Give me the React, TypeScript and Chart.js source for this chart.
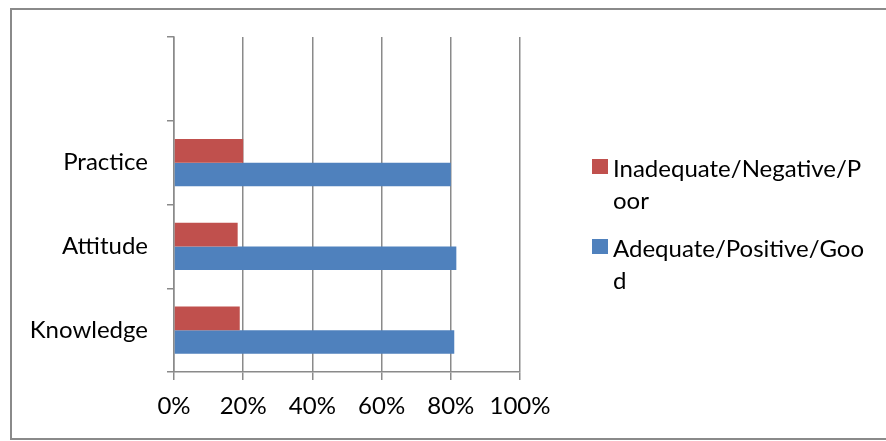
import React, { useEffect, useRef } from "react";
import { Chart, registerables } from "chart.js";

Chart.register(...registerables);

const categories = ["", "Practice", "Attitude", "Knowledge"];
const inadequate = [null, 20, 18.4, 19];
const adequate = [null, 80, 81.6, 81];
const seriesNames = ["Inadequate/Negative/Poor", "Adequate/Positive/Good"];
const legendLines = [
  ["Inadequate/Negative/P", "oor"],
  ["Adequate/Positive/Goo", "d"],
];
const seriesColors = ["#C0504D", "#4F81BD"];
const xMin = 0;
const xMax = 100;
const xStep = 20;

const FONT = "Lato";
const FONT_SIZE = 24;
const AXIS_COLOR = "#8a8a8a";

export default function App() {
  const canvasRef = useRef<HTMLCanvasElement | null>(null);

  useEffect(() => {
    const canvas = canvasRef.current;
    if (!canvas) return;
    const chart = new Chart(canvas, {
      type: "bar",
      data: {
        labels: categories,
        datasets: [
          {
            label: seriesNames[0],
            data: inadequate as any,
            backgroundColor: seriesColors[0],
            borderWidth: 0,
            barPercentage: 1,
            categoryPercentage: 0.565,
          },
          {
            label: seriesNames[1],
            data: adequate as any,
            backgroundColor: seriesColors[1],
            borderWidth: 0,
            barPercentage: 1,
            categoryPercentage: 0.565,
          },
        ],
      },
      options: {
        indexAxis: "y",
        responsive: false,
        animation: false,
        layout: { padding: { left: 0, top: 37, right: 366, bottom: 19 } },
        plugins: {
          legend: { display: false },
          tooltip: { enabled: false },
        },
        scales: {
          x: {
            min: xMin,
            max: xMax,
            ticks: {
              stepSize: xStep,
              callback: (v: any) => v + "%",
              color: "#000",
              font: { family: FONT, size: FONT_SIZE },
              padding: 12,
              maxRotation: 0,
            },
            grid: { color: AXIS_COLOR, lineWidth: 1.5, tickLength: 8 },
            border: { color: AXIS_COLOR, width: 1.5 },
            afterFit: (s: any) => {
              s.height = 50;
            },
          },
          y: {
            ticks: {
              color: "#000",
              font: { family: FONT, size: FONT_SIZE },
              padding: 19,
            },
            grid: {
              drawOnChartArea: false,
              color: AXIS_COLOR,
              lineWidth: 1.5,
              tickLength: 7,
            },
            border: { color: AXIS_COLOR, width: 1.5 },
            afterFit: (s: any) => {
              s.width = 174;
            },
          },
        },
      },
    });
    return () => chart.destroy();
  }, []);

  return (
    <div
      style={{
        position: "fixed",
        left: 0,
        top: 0,
        width: 886,
        height: 441,
        overflow: "hidden",
        background: "#fff",
      }}
    >
      <div
        style={{
          position: "absolute",
          left: 10,
          top: 8,
          width: 1000,
          height: 432,
          boxSizing: "border-box",
          border: `2px solid ${AXIS_COLOR}`,
          borderRight: "none",
        }}
      />
      <canvas
        ref={canvasRef}
        width={886}
        height={441}
        style={{ position: "absolute", left: 0, top: 0, width: 886, height: 441 }}
      />
      {legendLines.map((lines, i) => (
        <div
          key={i}
          style={{
            position: "absolute",
            left: 592,
            top: 152 + i * 80,
            fontFamily: FONT,
            fontSize: FONT_SIZE,
            lineHeight: "32px",
            color: "#000",
          }}
        >
          <div
            style={{
              position: "absolute",
              left: 0,
              top: 7,
              width: 16,
              height: 15,
              background: seriesColors[i],
            }}
          />
          <div style={{ marginLeft: 21, whiteSpace: "nowrap" }} title={seriesNames[i]}>
            {lines.map((t, j) => (
              <div key={j}>{t}</div>
            ))}
          </div>
        </div>
      ))}
    </div>
  );
}
